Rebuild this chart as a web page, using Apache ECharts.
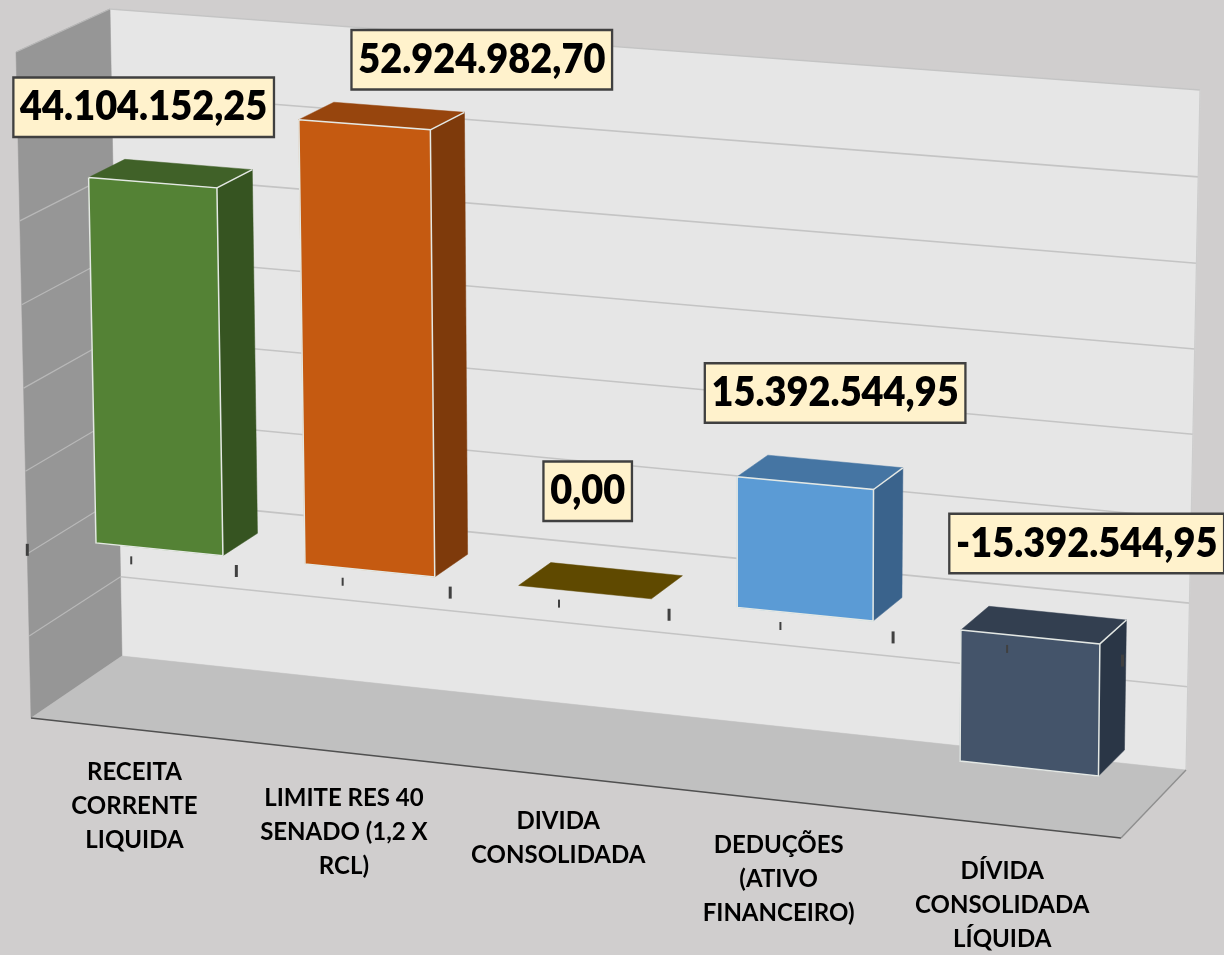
<!DOCTYPE html>
<html>
<head>
<meta charset="utf-8">
<title>Dívida consolidada</title>
<style>
html, body { margin: 0; padding: 0; background: #d0cece; }
#chart { width: 1224px; height: 955px; }
</style>
<script src="https://cdn.jsdelivr.net/npm/echarts@6/dist/echarts.min.js"></script>
</head>
<body>
<div id="chart"></div>
<script>
const categories = ['RECEITA\nCORRENTE\nLIQUIDA', 'LIMITE RES 40\nSENADO (1,2 X\nRCL)', 'DIVIDA\nCONSOLIDADA', 'DEDUÇÕES\n(ATIVO\nFINANCEIRO)', 'DÍVIDA\nCONSOLIDADA\nLÍQUIDA'];
const values = [44104152.25, 52924982.70, 0, 15392544.95, -15392544.95];
const valueLabels = ['44.104.152,25', '52.924.982,70', '0,00', '15.392.544,95', '-15.392.544,95'];
const valueTicks = [-20000000, -10000000, 0, 10000000, 20000000, 30000000, 40000000, 50000000, 60000000];

// face colours: front, top, side
const barColors = [
    ['#548235', '#406128', '#365421'],
    ['#c55a11', '#97450d', '#7e3a0b'],
    ['#7f6000', '#5f4900', '#5f4900'],
    ['#5b9bd5', '#4575a3', '#3a638c'],
    ['#44546a', '#333f50', '#2a3646']
];
// data label offset from the top of its bar, these were moved by hand in the original
const labelNudge = [[-27, -66], [100, -56], [-13, -89], [15, -79], [43, -81]];
const categoryNudge = [[0, -3], [-1, 0], [-2, -1], [-2, -1], [-4, 0]];

// corners of the box on screen: top left, top right, bottom right, bottom left
const frontQuad = [[16, 52], [1127, 134], [1121, 838], [31, 718]];
const backQuad = [[110, 9], [1200, 90], [1186, 770], [122, 656]];
const barDepth = [0.27, 0.66];
const barWidth = 0.61;
const barShift = 0.018;

function quadMatrix(q) {
    const dx1 = q[1][0] - q[2][0], dx2 = q[3][0] - q[2][0], sx = q[0][0] - q[1][0] + q[2][0] - q[3][0];
    const dy1 = q[1][1] - q[2][1], dy2 = q[3][1] - q[2][1], sy = q[0][1] - q[1][1] + q[2][1] - q[3][1];
    const den = dx1 * dy2 - dx2 * dy1;
    const g = (sx * dy2 - dx2 * sy) / den;
    const h = (dx1 * sy - sx * dy1) / den;
    return [
        q[1][0] - q[0][0] + g * q[1][0], q[3][0] - q[0][0] + h * q[3][0], q[0][0],
        q[1][1] - q[0][1] + g * q[1][1], q[3][1] - q[0][1] + h * q[3][1], q[0][1],
        g, h
    ];
}
const frontM = quadMatrix(frontQuad);
const backM = quadMatrix(backQuad);

function applyM(m, s, t) {
    const w = m[6] * s + m[7] * t + 1;
    return [(m[0] * s + m[1] * t + m[2]) / w, (m[3] * s + m[4] * t + m[5]) / w];
}

// plot coordinate plus depth (0 = front edge of floor, 1 = back wall) to screen
function project(p, z, rect) {
    const s = (p[0] - rect.x) / rect.width;
    const t = (p[1] - rect.y) / rect.height;
    const a = applyM(frontM, s, t);
    const b = applyM(backM, s, t);
    return [a[0] + (b[0] - a[0]) * z, a[1] + (b[1] - a[1]) * z];
}

function poly(points, fill, z2) {
    return { type: 'polygon', z2: z2 || 0, shape: { points: points }, style: { fill: fill, stroke: fill, lineWidth: 0.5 } };
}
function line(points, stroke, width, z2) {
    return { type: 'polyline', z2: z2 || 1, shape: { points: points }, style: { fill: null, stroke: stroke, lineWidth: width } };
}

function renderRoom(params, api) {
    const r = params.coordSys;
    const tl = [r.x, r.y], tr = [r.x + r.width, r.y], br = [r.x + r.width, r.y + r.height], bl = [r.x, r.y + r.height];
    const children = [
        poly([project(tl, 1, r), project(tr, 1, r), project(br, 1, r), project(bl, 1, r)], '#e6e6e6'),
        poly([project(tl, 0, r), project(tl, 1, r), project(bl, 1, r), project(bl, 0, r)], '#969696'),
        poly([project(bl, 0, r), project(bl, 1, r), project(br, 1, r), project(br, 0, r)], '#c0c0c0')
    ];
    valueTicks.forEach(function (v) {
        const y = api.coord([0, v])[1];
        if (v > valueTicks[0]) {
            children.push(line([project([r.x, y], 1, r), project([r.x + r.width, y], 1, r)], '#c4c4c4', 1.6));
            children.push(line([project([r.x, y], 0, r), project([r.x, y], 1, r)], '#b8b8b8', 1.2));
        }
    });
    children.push(line([project(tr, 1, r), project(br, 1, r)], '#cdcdcd', 1.2));
    children.push(line([project(bl, 0, r), project(br, 0, r)], '#505050', 1.6));
    children.push(line([project(br, 0, r), project(br, 1, r)], '#8f8f8f', 1.4));
    return { type: 'group', children: children };
}

function renderBar(params, api) {
    const r = params.coordSys;
    const i = api.value(0), v = api.value(1);
    const step = api.size([1, 0])[0];
    const cx = api.coord([i, 0])[0] + step * barShift;
    const w = step * barWidth;
    const y0 = api.coord([i, Math.max(v, 0)])[1];
    const y1 = api.coord([i, Math.min(v, 0)])[1];
    const x0 = cx - w / 2, x1 = cx + w / 2;
    const zf = barDepth[0], zb = barDepth[1];
    const c = barColors[i];
    const ftl = project([x0, y0], zf, r), ftr = project([x1, y0], zf, r);
    const fbr = project([x1, y1], zf, r), fbl = project([x0, y1], zf, r);
    const btl = project([x0, y0], zb, r), btr = project([x1, y0], zb, r), bbr = project([x1, y1], zb, r);
    if (v === 0) {
        return { type: 'group', children: [poly([ftl, ftr, btr, btl], c[1])] };
    }
    return {
        type: 'group',
        children: [
            poly([ftl, ftr, btr, btl], c[1]),
            poly([ftr, btr, bbr, fbr], c[2]),
            poly([ftl, ftr, fbr, fbl], c[0]),
            line([ftl, ftr, fbr, fbl, ftl], '#e4e8e4', 1.5, 2),
            line([ftr, btr], '#e4e8e4', 1.5, 2)
        ]
    };
}

function renderTick(params, api) {
    const r = params.coordSys;
    const step = api.size([1, 0])[0];
    const y = api.coord([0, 0])[1];
    const x = r.x + api.value(0) * step / 2;
    const big = api.value(0) % 2 === 0;
    const p = project([x, y], 0, r);
    const h = big ? 6 : 4;
    return line([[p[0], p[1] - 4 - h], [p[0], p[1] - 4 + h]], '#404040', big ? 3 : 2, 3);
}

function renderCategory(params, api) {
    const r = params.coordSys;
    const i = api.value(0);
    const p = project([api.coord([i, 0])[0], r.y + r.height], 0, r);
    return {
        type: 'text',
        style: {
            x: p[0] + categoryNudge[i][0], y: p[1] + 29 + categoryNudge[i][1],
            text: categories[i], align: 'center', verticalAlign: 'top',
            font: '700 24px Lato', lineHeight: 34, fill: '#000000'
        }
    };
}

function renderValueLabel(params, api) {
    const r = params.coordSys;
    const i = api.value(0), v = api.value(1);
    const p = project([api.coord([i, 0])[0], api.coord([i, Math.max(v, 0)])[1]], (barDepth[0] + barDepth[1]) / 2, r);
    return {
        type: 'text',
        z2: 5,
        x: p[0] + labelNudge[i][0] + 4,
        y: p[1] + labelNudge[i][1],
        scaleX: 0.925,
        style: {
            x: 0, y: 0,
            text: valueLabels[i], align: 'center', verticalAlign: 'middle',
            font: '800 41px Lato', fill: '#000000',
            backgroundColor: '#fff2cc', borderColor: '#404040', borderWidth: 2.5,
            padding: [8, 6, 8, 6]
        }
    };
}

const barData = values.map(function (v, i) { return [i, v]; });
const tickData = [0, 1, 2, 3, 4, 5, 6, 7, 8, 9, 10].map(function (n) { return [n]; });

const myChart = echarts.init(document.getElementById('chart'), null, { renderer: 'canvas' });
myChart.setOption({
    animation: false,
    backgroundColor: '#d0cece',
    grid: { left: 0, right: 0, top: 0, bottom: 0 },
    xAxis: { type: 'category', data: categories, show: false },
    yAxis: { type: 'value', min: -20000000, max: 60000000, interval: 10000000, show: false },
    series: [
        { type: 'custom', name: 'room', z: 1, silent: true, clip: false, data: [[0]], renderItem: renderRoom },
        { type: 'custom', name: 'bars', z: 2, clip: false, data: barData, encode: { x: 0, y: 1 }, renderItem: renderBar },
        { type: 'custom', name: 'ticks', z: 3, silent: true, clip: false, data: tickData, renderItem: renderTick },
        { type: 'custom', name: 'categories', z: 4, silent: true, clip: false, data: barData, renderItem: renderCategory },
        { type: 'custom', name: 'labels', z: 5, silent: true, clip: false, data: barData, renderItem: renderValueLabel }
    ]
});
</script>
</body>
</html>
